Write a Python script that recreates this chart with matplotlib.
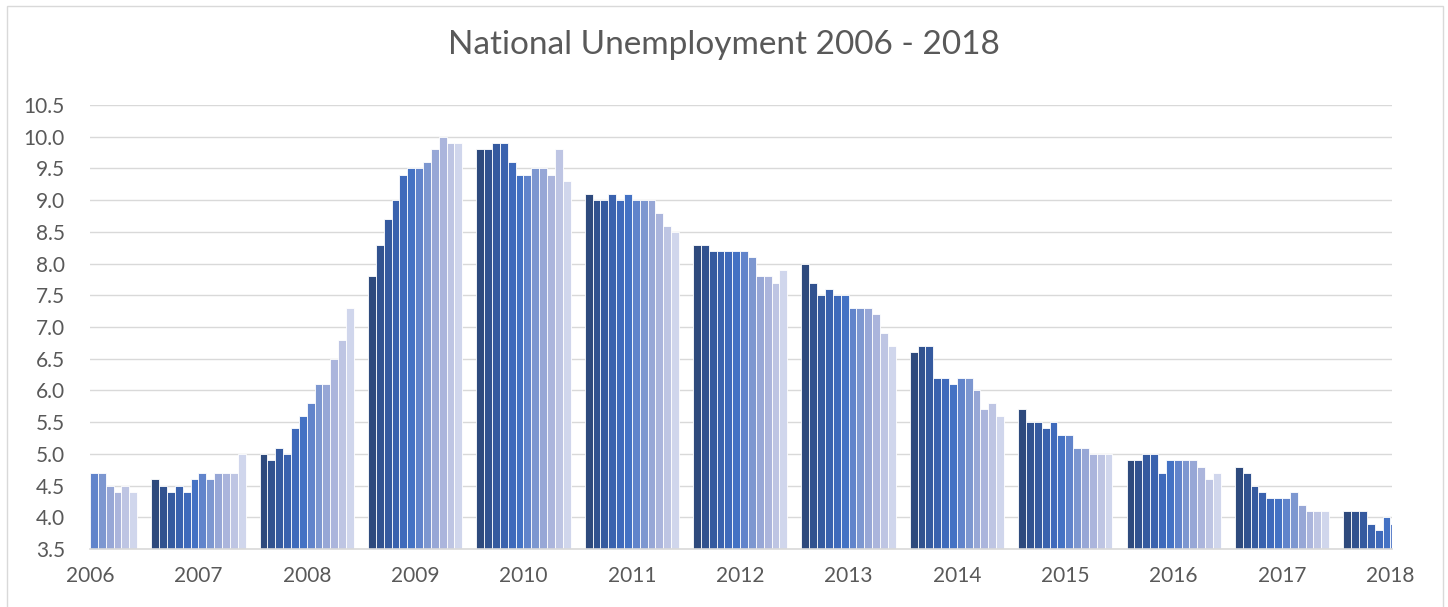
import matplotlib
matplotlib.use("Agg")
import matplotlib.pyplot as plt
from matplotlib.patches import Rectangle

# Monthly national unemployment rate (%).
# 2006 is only visible from July, 2018 up to July.
years = list(range(2006, 2019))
u2006 = [4.7, 4.7, 4.5, 4.4, 4.5, 4.4]
u2007 = [4.6, 4.5, 4.4, 4.5, 4.4, 4.6, 4.7, 4.6, 4.7, 4.7, 4.7, 5.0]
u2008 = [5.0, 4.9, 5.1, 5.0, 5.4, 5.6, 5.8, 6.1, 6.1, 6.5, 6.8, 7.3]
u2009 = [7.8, 8.3, 8.7, 9.0, 9.4, 9.5, 9.5, 9.6, 9.8, 10.0, 9.9, 9.9]
u2010 = [9.8, 9.8, 9.9, 9.9, 9.6, 9.4, 9.4, 9.5, 9.5, 9.4, 9.8, 9.3]
u2011 = [9.1, 9.0, 9.0, 9.1, 9.0, 9.1, 9.0, 9.0, 9.0, 8.8, 8.6, 8.5]
u2012 = [8.3, 8.3, 8.2, 8.2, 8.2, 8.2, 8.2, 8.1, 7.8, 7.8, 7.7, 7.9]
u2013 = [8.0, 7.7, 7.5, 7.6, 7.5, 7.5, 7.3, 7.3, 7.3, 7.2, 6.9, 6.7]
u2014 = [6.6, 6.7, 6.7, 6.2, 6.2, 6.1, 6.2, 6.2, 6.0, 5.7, 5.8, 5.6]
u2015 = [5.7, 5.5, 5.5, 5.4, 5.5, 5.3, 5.3, 5.1, 5.1, 5.0, 5.0, 5.0]
u2016 = [4.9, 4.9, 5.0, 5.0, 4.7, 4.9, 4.9, 4.9, 4.9, 4.8, 4.6, 4.7]
u2017 = [4.8, 4.7, 4.5, 4.4, 4.3, 4.3, 4.3, 4.4, 4.2, 4.1, 4.1, 4.1]
u2018 = [4.1, 4.1, 4.1, 3.9, 3.8, 4.0, 3.9]
series = [u2006, u2007, u2008, u2009, u2010, u2011, u2012,
          u2013, u2014, u2015, u2016, u2017, u2018]
first_month = [7] + [1] * 12

# Jan (dark) .. Dec (light), Excel blue monochrome
month_colors = ["#2E4A7D", "#31528F", "#355A9F", "#3A62AE", "#3F6ABB", "#4472C4",
                "#6184CB", "#7D97D0", "#97A7D6", "#ABB5DC", "#BEC5E3", "#D0D6EC"]

GREY = "#595959"
GRID = "#D9D9D9"
GROUP_W = 0.87
slot = GROUP_W / 12

plt.rcParams["font.family"] = ["Lato", "DejaVu Sans"]

fig = plt.figure(figsize=(14.48, 6.07), dpi=100)
ax = fig.add_axes([90 / 1448, 58 / 607, 1302 / 1448, 444 / 607])

for m in range(12):
    xs, hs = [], []
    for i, vals in enumerate(series):
        k = m + 1 - first_month[i]
        if 0 <= k < len(vals):
            xs.append(i - GROUP_W / 2 + (m + 0.5) * slot)
            hs.append(vals[k])
    ax.bar(xs, hs, width=slot, color=month_colors[m], edgecolor="white",
           linewidth=0.6, zorder=2)

ax.set_xlim(0, len(years) - 1 + 0.015)
ax.set_ylim(3.5, 10.5)
ax.set_yticks([3.5 + 0.5 * i for i in range(15)])
ax.set_yticklabels([f"{3.5 + 0.5 * i:.1f}" for i in range(15)])
ax.set_xticks(range(len(years)))
ax.set_xticklabels([str(y) for y in years])
ax.tick_params(length=0, labelsize=15, colors=GREY)
ax.tick_params(axis="y", pad=18)
ax.tick_params(axis="x", pad=12)

ax.grid(axis="y", color=GRID, linewidth=1.0, zorder=0)
ax.set_axisbelow(True)
for s in ["top", "right", "left"]:
    ax.spines[s].set_visible(False)
ax.spines["bottom"].set_color(GRID)
ax.spines["bottom"].set_linewidth(1.2)

fig.text(0.5, (607 - 54) / 607, "National Unemployment 2006 - 2018",
         ha="center", va="baseline", fontsize=24, color=GREY)

# chart border
fig.patches.append(Rectangle((7 / 1448, -0.05), 1436 / 1448, 1.05 - 6 / 607,
                             transform=fig.transFigure, fill=False,
                             edgecolor=GRID, linewidth=1.0))

fig.savefig("out.png", dpi=100)
